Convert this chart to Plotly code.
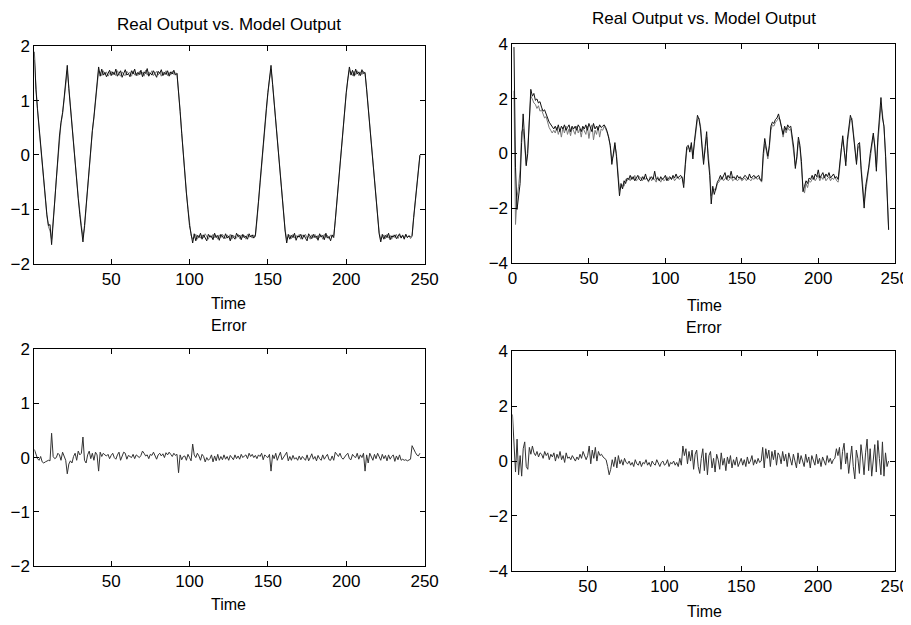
import plotly.graph_objects as go

# --- left column: real vs model output, sample 1..247 ---
real_left = [
    1.90,
    1.20, 0.85, 0.50, 0.15, -0.20, -0.52, -0.85, -1.10, -1.30, -1.28, -1.65,
    -1.22, -0.82, -0.42, -0.05, 0.35, 0.60, 0.78, 1.05, 1.35, 1.65,
    1.22, 0.86, 0.50, 0.22, -0.12, -0.46, -0.80, -1.10, -1.32, -1.60,
    -1.30, -0.95, -0.55, -0.18, 0.20, 0.45, 0.70, 1.05, 1.35, 1.62,
    1.45, 1.58, 1.47, 1.52, 1.44, 1.50, 1.56, 1.46, 1.53, 1.48,
    1.58, 1.45, 1.51, 1.55, 1.43, 1.52, 1.57, 1.47, 1.50, 1.44,
    1.55, 1.49, 1.58, 1.46, 1.52, 1.48, 1.56, 1.44, 1.53, 1.50,
    1.59, 1.45, 1.51, 1.47, 1.55, 1.49, 1.43, 1.54, 1.50, 1.57,
    1.46, 1.52, 1.48, 1.55, 1.45, 1.53, 1.49, 1.56, 1.47, 1.50,
    1.20, 0.80, 0.40, 0.00, -0.35, -0.70, -1.00, -1.30, -1.45, -1.62,
    -1.45, -1.58, -1.48, -1.52, -1.44, -1.55, -1.47, -1.53, -1.58, -1.46,
    -1.51, -1.49, -1.56, -1.44, -1.52, -1.48, -1.57, -1.46, -1.50, -1.54,
    -1.45, -1.53, -1.49, -1.58, -1.47, -1.51, -1.55, -1.44, -1.50, -1.48,
    -1.56, -1.46, -1.52, -1.49, -1.55, -1.45, -1.51, -1.47, -1.53, -1.48,
    -1.20, -0.85, -0.50, -0.12, 0.25, 0.55, 0.85, 1.15, 1.40, 1.65,
    1.30, 0.95, 0.55, 0.20, -0.15, -0.50, -0.85, -1.15, -1.40, -1.62,
    -1.46, -1.55, -1.48, -1.52, -1.44, -1.57, -1.49, -1.51, -1.46, -1.55,
    -1.47, -1.53, -1.58, -1.45, -1.50, -1.54, -1.46, -1.52, -1.49, -1.57,
    -1.45, -1.51, -1.48, -1.56, -1.44, -1.53, -1.50, -1.58, -1.47, -1.52,
    -1.20, -0.85, -0.50, -0.15, 0.20, 0.55, 0.85, 1.15, 1.40, 1.62,
    1.47, 1.56, 1.45, 1.58, 1.49, 1.53, 1.46, 1.57, 1.50, 1.52,
    1.20, 0.85, 0.50, 0.15, -0.20, -0.55, -0.90, -1.20, -1.45, -1.60,
    -1.46, -1.55, -1.48, -1.52, -1.44, -1.56, -1.49, -1.51, -1.47, -1.54,
    -1.50, -1.45, -1.53, -1.48, -1.55, -1.46, -1.52, -1.49, -1.51, -1.48,
    -1.15, -0.85, -0.55, -0.28, 0.00,
]

model_left = [
    1.75,
    1.15, 0.82, 0.48, 0.13, -0.22, -0.55, -0.88, -1.12, -1.32, -1.40, -1.55,
    -1.25, -0.85, -0.45, -0.08, 0.30, 0.58, 0.75, 1.02, 1.32, 1.55,
    1.25, 0.88, 0.52, 0.25, -0.10, -0.44, -0.78, -1.08, -1.30, -1.50,
    -1.35, -0.98, -0.58, -0.20, 0.18, 0.43, 0.68, 1.02, 1.32, 1.55,
    1.52, 1.46, 1.55, 1.48, 1.53, 1.45, 1.50, 1.54, 1.47, 1.52,
    1.46, 1.55, 1.49, 1.45, 1.53, 1.48, 1.46, 1.54, 1.50, 1.52,
    1.45, 1.55, 1.47, 1.51, 1.46, 1.54, 1.48, 1.52, 1.45, 1.56,
    1.47, 1.53, 1.49, 1.55, 1.46, 1.51, 1.54, 1.47, 1.52, 1.45,
    1.53, 1.48, 1.55, 1.46, 1.52, 1.47, 1.54, 1.48, 1.51, 1.50,
    1.22, 0.82, 0.42, 0.02, -0.33, -0.68, -0.98, -1.28, -1.48, -1.55,
    -1.52, -1.46, -1.55, -1.48, -1.53, -1.47, -1.52, -1.45, -1.50, -1.55,
    -1.47, -1.53, -1.46, -1.52, -1.48, -1.55, -1.47, -1.52, -1.46, -1.49,
    -1.54, -1.47, -1.52, -1.46, -1.55, -1.48, -1.50, -1.53, -1.46, -1.54,
    -1.47, -1.52, -1.48, -1.55, -1.46, -1.51, -1.49, -1.53, -1.47, -1.50,
    -1.22, -0.87, -0.52, -0.14, 0.23, 0.53, 0.83, 1.13, 1.38, 1.58,
    1.32, 0.97, 0.57, 0.22, -0.13, -0.48, -0.83, -1.13, -1.38, -1.55,
    -1.52, -1.47, -1.54, -1.46, -1.53, -1.48, -1.52, -1.46, -1.55, -1.47,
    -1.51, -1.46, -1.53, -1.49, -1.55, -1.47, -1.52, -1.46, -1.54, -1.48,
    -1.52, -1.47, -1.55, -1.46, -1.52, -1.48, -1.54, -1.47, -1.51, -1.49,
    -1.22, -0.87, -0.52, -0.17, 0.18, 0.53, 0.83, 1.13, 1.38, 1.56,
    1.52, 1.46, 1.54, 1.47, 1.55, 1.46, 1.53, 1.48, 1.54, 1.49,
    1.22, 0.87, 0.52, 0.17, -0.18, -0.53, -0.88, -1.18, -1.43, -1.55,
    -1.52, -1.47, -1.54, -1.46, -1.53, -1.48, -1.55, -1.47, -1.52, -1.46,
    -1.54, -1.48, -1.51, -1.47, -1.53, -1.46, -1.52, -1.48, -1.54, -1.50,
    -1.17, -0.87, -0.57, -0.30, -0.02,
]

error_left = [
    0.15, 0.05, -0.02, -0.05, 0.02, -0.08, -0.10, -0.08, -0.07, -0.05, -0.06, 0.45,
    0.02, -0.02, 0.00, 0.08, 0.05, -0.05, 0.10, 0.03, -0.05, -0.30,
    -0.12, -0.06, -0.10, 0.02, 0.08, -0.05, 0.12, 0.05, 0.08, 0.38,
    -0.05, -0.10, 0.05, 0.12, -0.02, 0.08, -0.05, 0.10, 0.05, -0.25,
    0.10, 0.02, 0.08, 0.05, 0.03, 0.06, -0.02, 0.04, 0.08, 0.00,
    -0.03, 0.05, 0.10, -0.05, 0.02, 0.10, 0.08, -0.03, 0.04, 0.02,
    0.00, 0.06, -0.02, 0.05, 0.03, 0.00, 0.04, 0.12, 0.08, 0.03,
    0.05, -0.02, 0.06, 0.04, 0.10, 0.02, -0.03, 0.05, 0.08, 0.03,
    0.07, 0.00, 0.09, 0.05, 0.10, 0.06, 0.02, 0.08, 0.04, 0.06,
    -0.28, 0.05, -0.04, 0.02, 0.03, -0.05, 0.06, 0.00, -0.06, 0.25,
    0.05, 0.00, 0.08, 0.03, -0.05, 0.06, 0.02, -0.08, 0.00, -0.05,
    -0.02, 0.05, -0.08, 0.03, -0.06, 0.06, -0.05, 0.02, -0.04, 0.05,
    -0.03, 0.02, -0.05, 0.04, 0.00, -0.04, 0.05, -0.02, 0.03, -0.03,
    0.06, 0.00, 0.03, 0.05, -0.02, 0.08, 0.02, 0.06, 0.00, 0.04,
    -0.02, 0.05, 0.02, 0.08, -0.04, 0.05, 0.02, 0.00, 0.06, -0.25,
    0.05, -0.02, 0.08, -0.05, 0.03, 0.10, -0.04, 0.02, 0.05, 0.10,
    -0.06, 0.02, -0.05, 0.04, -0.03, 0.00, -0.05, 0.03, -0.04, 0.02,
    -0.02, -0.05, 0.05, -0.06, 0.00, 0.07, -0.03, 0.02, -0.06, 0.04,
    -0.02, -0.05, 0.05, -0.03, 0.02, 0.06, -0.04, -0.05, 0.03, -0.05,
    0.10, 0.05, 0.02, 0.08, 0.00, -0.03, 0.02, 0.05, 0.08, -0.02,
    -0.04, 0.06, 0.02, 0.00, 0.08, -0.03, 0.05, 0.00, 0.08, -0.25,
    0.05, -0.10, 0.08, 0.00, -0.05, 0.06, -0.02, 0.08, 0.02, -0.05,
    0.06, -0.02, 0.04, -0.06, 0.05, -0.03, 0.02, 0.05, -0.07, 0.03,
    -0.04, 0.05, -0.05, -0.03, -0.05, -0.04, -0.06, -0.05, -0.03, 0.22,
    0.15, 0.10, 0.05, 0.03, 0.08,
]

# --- right column: real vs model output, sample 1..246 ---
real_right = [
    3.90, -0.50, -2.05, -1.55, -1.10, 0.40, 1.45, 0.50, -0.45, 0.00, 1.20, 2.35,
    2.10, 2.20, 1.95, 2.00, 1.85, 1.90, 1.70, 1.55, 1.60, 1.40, 1.30, 1.15, 1.05, 0.95, 0.90,
    1.00, 0.85, 1.05, 0.80, 1.00, 0.90, 1.05, 0.85, 0.95, 1.05,
    0.80, 1.00, 0.90, 1.00, 0.85, 1.05, 0.95, 0.80, 1.00, 0.90,
    1.05, 0.85, 1.10, 0.95, 0.80, 1.10, 0.90, 1.00, 0.85, 1.05,
    0.95, 1.00, 1.05, 0.95,
    0.80, 0.55, 0.30, -0.40, 0.10, 0.40, -0.10, -0.90, -1.55, -1.10, -1.30, -1.00, -1.10, -0.90,
    -0.95, -0.80, -0.95, -0.85, -1.00, -0.90, -0.80, -0.95, -1.00, -0.85,
    -0.95, -0.75, -0.95, -1.00, -0.90, -0.85, -0.95, -0.65, -0.95, -0.90,
    -1.00, -0.85, -0.95, -0.90, -0.80, -1.00, -0.90, -0.85, -0.95, -0.80,
    -0.90, -0.75, -0.90, -0.85, -0.80, -0.90,
    -1.25, -0.40, 0.25, 0.30, 0.05, 0.40, -0.20, 0.45, 0.90, 1.40,
    1.25, 0.90, 0.20, -0.40, 0.25, 0.80, -0.20, -0.80, -1.85, -1.20,
    -1.50, -1.25, -1.05, -0.95,
    -0.80, -0.95, -0.85, -0.70, -0.95, -0.80, -0.90, -0.65, -0.90, -0.85,
    -0.95, -0.80, -0.90, -0.85, -0.95, -0.90, -0.80, -0.85, -0.95, -0.75,
    -0.90, -0.85, -0.80, -0.90, -0.85, -0.80, -0.95, -1.00,
    0.00, 0.55, 0.20, -0.10, 0.30, 1.00, 1.15, 1.10, 1.25, 1.30,
    1.45, 1.20, 0.90, 0.70, 1.00, 0.85, 1.05, 0.95, 1.00, 0.60,
    0.20, -0.55, -0.10, 0.60, 0.30, -0.30, -1.40, -1.20, -1.00, -1.10,
    -0.90, -0.95,
    -0.80, -0.95, -0.75, -0.85, -0.60, -0.90, -0.80, -0.70, -0.90, -0.75,
    -0.85, -0.70, -0.90, -0.80, -0.75, -0.90, -0.85, -0.95,
    -0.40, 0.30, 0.65, 0.10, -0.45, 0.50, 0.90, 1.40, 1.20, 0.60,
    0.00, -0.40, 0.35, 0.40, -0.60, -1.20, -2.00, -1.20, -0.90, -0.50,
    0.00, 0.45, 0.75, 0.20, -0.65, 0.60, 1.40, 2.05, 1.30, 1.00,
    -0.10, -1.60, -2.80,
]

model_right = [
    2.30, -2.60, -1.60, -1.20, -0.60, 0.80, 0.90, 0.20, -0.40, 0.20, 1.40, 2.10,
    2.00, 1.85, 1.80, 1.65, 1.75, 1.55, 1.60, 1.45, 1.30, 1.35, 1.10, 0.95, 0.85, 0.75, 0.85,
    0.75, 0.95, 0.70, 0.90, 0.60, 0.95, 0.75, 1.00, 0.70, 0.90,
    0.65, 0.95, 0.80, 0.70, 1.00, 0.75, 0.90, 0.60, 0.95, 0.80,
    0.70, 1.00, 0.55, 0.90, 1.05, 0.50, 0.85, 0.70, 1.00, 0.60,
    0.90, 0.85, 1.00, 0.90,
    0.75, 0.60, 0.20, -0.20, -0.10, 0.30, 0.00, -0.70, -1.35, -1.25, -1.15, -1.20, -0.95, -1.00,
    -0.90, -1.00, -0.85, -0.95, -0.80, -1.00, -0.95, -0.85, -0.90, -1.00,
    -0.85, -0.95, -0.90, -1.05, -0.85, -1.00, -0.90, -0.95, -1.05, -0.85,
    -0.95, -1.05, -0.90, -1.00, -0.95, -0.85, -1.00, -0.90, -0.95, -0.85,
    -1.00, -0.90, -0.85, -0.95, -0.90, -0.85,
    -1.10, -0.50, 0.10, 0.25, 0.15, 0.30, -0.05, 0.35, 0.80, 1.25,
    1.30, 1.00, 0.35, -0.25, 0.10, 0.60, 0.00, -0.60, -1.55, -1.45,
    -1.30, -1.35, -1.10, -1.05,
    -0.95, -0.85, -1.00, -0.90, -0.85, -1.00, -0.95, -0.85, -1.00, -0.95,
    -0.90, -1.00, -0.95, -0.90, -1.00, -0.95, -0.90, -1.00, -0.90, -0.95,
    -1.00, -0.90, -0.95, -0.85, -0.95, -0.90, -1.00, -1.05,
    -0.20, 0.35, 0.10, -0.20, 0.20, 0.85, 1.05, 1.00, 1.15, 1.20,
    1.30, 1.25, 0.95, 0.60, 0.90, 0.75, 0.95, 0.85, 0.90, 0.50,
    0.10, -0.45, -0.20, 0.45, 0.20, -0.40, -1.20, -1.45, -1.10, -1.25,
    -1.00, -1.05,
    -0.95, -0.85, -1.00, -0.90, -0.80, -1.00, -0.85, -0.95, -0.80, -1.00,
    -0.90, -0.85, -1.00, -0.90, -0.95, -0.85, -1.00, -1.05,
    -0.55, 0.15, 0.50, 0.00, -0.30, 0.35, 0.80, 1.25, 1.30, 0.70,
    0.10, -0.30, 0.20, 0.30, -0.45, -1.00, -1.75, -1.40, -1.00, -0.60,
    -0.10, 0.30, 0.65, 0.30, -0.50, 0.40, 1.20, 1.75, 1.45, 0.90,
    0.00, -1.40, -2.75,
]

error_right = [
    1.70, 0.85, -0.40, 0.80, -0.50, 0.20, -0.55, 0.45, 0.70, -0.20, -0.30, 0.50, 0.25, 0.55,
    0.30, 0.20, 0.35, 0.15, 0.30, 0.25, 0.10, 0.35, 0.20, 0.30,
    0.05, 0.25, 0.15, 0.30, 0.00, 0.25, 0.10, 0.35, 0.05, 0.20,
    -0.05, 0.30, 0.10, 0.15, 0.05, 0.20, 0.10, 0.00, 0.15, 0.05,
    0.25, 0.10, 0.35, 0.15, 0.05, 0.20,
    0.55, -0.10, 0.40, 0.10, 0.50, 0.00, 0.35, 0.20, 0.25, 0.15, 0.10, 0.05,
    -0.20, -0.50, -0.30, 0.05, -0.20, 0.15, -0.25, 0.20, -0.10, 0.05, -0.15, 0.10, -0.05,
    -0.10, 0.00, -0.15, -0.05, -0.20, 0.05, -0.10, -0.15, 0.00, -0.20,
    -0.05, -0.10, 0.05, -0.15, -0.05, -0.20, 0.00, -0.10, -0.15, 0.05,
    -0.10, -0.20, -0.05, 0.00, -0.15, -0.10, 0.05, -0.20, -0.05, -0.10,
    0.00, -0.15, -0.05, -0.20, 0.10, -0.15,
    0.55, 0.20, 0.45, -0.10, 0.35, 0.00, 0.40, -0.30, 0.25, 0.40,
    -0.20, -0.45, 0.10, 0.45, -0.35, 0.30, -0.50, 0.20, 0.35, -0.25,
    0.10, -0.40, 0.25, 0.05, -0.30, 0.30, -0.15, 0.10, -0.35, 0.15,
    -0.10, 0.20, -0.25, 0.05, -0.15, 0.15, -0.20, 0.00, 0.10, -0.15,
    0.05, -0.20, 0.15, -0.10, 0.00, 0.20, -0.15, 0.05, -0.10, 0.10,
    -0.05, 0.00,
    0.50, -0.25, 0.45, 0.10, 0.40, -0.20, 0.35, 0.05, 0.40, -0.15,
    0.30, 0.20, -0.10, 0.35, 0.00, 0.25, -0.20, 0.30, 0.10, -0.15,
    0.25, 0.05, -0.25, 0.30, -0.10, 0.20, 0.00, -0.20, 0.25, -0.05,
    0.15, -0.25, 0.20, 0.05, -0.15, 0.25, -0.10, 0.10, -0.20, 0.15,
    0.00, -0.15, 0.20, -0.05, 0.10, -0.10, 0.05,
    0.10, 0.45, 0.20, 0.50, -0.30, 0.35, 0.65, -0.10, 0.30, -0.45,
    0.20, 0.55, -0.20, -0.65, 0.40, 0.10, -0.45, 0.60, 0.15, -0.50,
    0.30, 0.80, -0.35, 0.45, -0.55, 0.20, 0.60, -0.40, 0.75, 0.10,
    -0.50, 0.70, -0.55, 0.30, -0.20, 0.00,
]

x_ticks_left = [50, 100, 150, 200, 250]
x_ticks_right = [0, 50, 100, 150, 200, 250]
y_ticks_left = [-2, -1, 0, 1, 2]
y_ticks_right = [-4, -2, 0, 2, 4]

FONT = "Liberation Sans, Arial, sans-serif"
W, H = 911, 625

# the page photo comes out slightly shifted/shrunk; measured on a first render
OFF_X, SC_X = 10.6, 0.981
OFF_Y, SC_Y = 15.6, 0.9725


def fx(p):
    return (p - OFF_X) / SC_X / W


def fy(p):
    return 1 - (p - OFF_Y) / SC_Y / H


def samples(values):
    return list(range(1, len(values) + 1))


fig = go.Figure()

gray = dict(color="#7a7a7a", width=1)
black = dict(color="#111111", width=1)

fig.add_trace(go.Scatter(x=samples(model_left), y=model_left, mode="lines", line=gray, xaxis="x", yaxis="y"))
fig.add_trace(go.Scatter(x=samples(real_left), y=real_left, mode="lines", line=black, xaxis="x", yaxis="y"))
fig.add_trace(go.Scatter(x=samples(model_right), y=model_right, mode="lines", line=gray, xaxis="x2", yaxis="y2"))
fig.add_trace(go.Scatter(x=samples(real_right), y=real_right, mode="lines", line=black, xaxis="x2", yaxis="y2"))
fig.add_trace(go.Scatter(x=samples(error_left), y=error_left, mode="lines",
                         line=dict(color="#333333", width=1), xaxis="x3", yaxis="y3"))
fig.add_trace(go.Scatter(x=samples(error_right), y=error_right, mode="lines",
                         line=dict(color="#333333", width=1), xaxis="x4", yaxis="y4"))

axis_style = dict(
    showline=True, linecolor="black", linewidth=1, mirror="ticks",
    ticks="inside", ticklen=5, tickcolor="black",
    showgrid=False, zeroline=False,
    tickfont=dict(family=FONT, size=17, color="black"),
)

fig.update_layout(
    xaxis=dict(domain=[fx(32), fx(423)], range=[1, 250], tickvals=x_ticks_left, anchor="y", **axis_style),
    yaxis=dict(domain=[fy(263), fy(45)], range=[-2, 2], tickvals=y_ticks_left, anchor="x", **axis_style),
    xaxis2=dict(domain=[fx(511), fx(894)], range=[0, 250], tickvals=x_ticks_right, anchor="y2", **axis_style),
    yaxis2=dict(domain=[fy(262), fy(43)], range=[-4, 4], tickvals=y_ticks_right, anchor="x2", **axis_style),
    xaxis3=dict(domain=[fx(32), fx(423)], range=[1, 250], tickvals=x_ticks_left, anchor="y3", **axis_style),
    yaxis3=dict(domain=[fy(566), fy(349)], range=[-2, 2], tickvals=y_ticks_left, anchor="x3", **axis_style),
    xaxis4=dict(domain=[fx(511), fx(894)], range=[1, 250], tickvals=x_ticks_left, anchor="y4", **axis_style),
    yaxis4=dict(domain=[fy(571), fy(351)], range=[-4, 4], tickvals=y_ticks_right, anchor="x4", **axis_style),
    width=W, height=H,
    margin=dict(l=0, r=0, t=0, b=0),
    paper_bgcolor="white", plot_bgcolor="white",
    showlegend=False,
    font=dict(family=FONT, size=16, color="black"),
)

# titles and axis labels at their pixel centres
labels = [
    ("Real Output vs. Model Output", 227, 23, 17),
    ("Real Output vs. Model Output", 703, 17, 17),
    ("Time", 227, 303, 16),
    ("Time", 703, 305, 16),
    ("Error", 227, 325, 16),
    ("Error", 703, 327, 16),
    ("Time", 227, 605, 16),
    ("Time", 703, 612, 16),
]
for text, cx, cy, size in labels:
    fig.add_annotation(text=text, x=fx(cx), y=fy(cy), xref="paper", yref="paper",
                       xanchor="center", yanchor="middle", showarrow=False,
                       font=dict(family=FONT, size=size, color="black"))

fig.write_html("out.html")
